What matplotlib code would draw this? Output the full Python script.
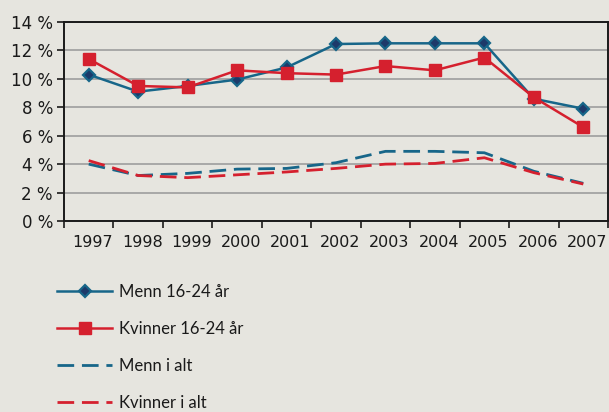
#!/usr/bin/env python3
import matplotlib
matplotlib.use('Agg')
import matplotlib.pyplot as plt
import matplotlib.transforms as mtransforms
import numpy as np

years = ['1997', '1998', '1999', '2000', '2001', '2002', '2003', '2004', '2005', '2006', '2007']
menn_ung    = [10.3, 9.1, 9.5, 9.95, 10.8, 12.45, 12.5, 12.5, 12.5, 8.6, 7.9]
kvinner_ung = [11.4, 9.5, 9.4, 10.6, 10.4, 10.3, 10.9, 10.6, 11.5, 8.7, 6.6]
menn_alt    = [4.0, 3.2, 3.35, 3.65, 3.7, 4.1, 4.9, 4.9, 4.8, 3.5, 2.65]
kvinner_alt = [4.25, 3.2, 3.05, 3.25, 3.45, 3.7, 4.0, 4.05, 4.45, 3.4, 2.6]
labels = ['Menn 16-24 år', 'Kvinner 16-24 år', 'Menn i alt', 'Kvinner i alt']

BG   = '#e6e5df'
BLUE = '#176689'
RED  = '#d5202e'
INK  = '#1a1a1a'

fig = plt.figure(figsize=(6.09, 4.12), dpi=100, facecolor=BG)
ax  = fig.add_axes([64/609, 1-221/412, 544/609, 199/412], facecolor=BG)

x = np.arange(len(years))
l1, = ax.plot(x, menn_ung, color=BLUE, lw=1.8, marker='D', ms=6.5,
              mfc='#1d3a6a', mec=BLUE, mew=1.6, zorder=4)
l2, = ax.plot(x, kvinner_ung, color=RED, lw=1.8, marker='s', ms=8,
              mfc=RED, mec=RED, zorder=5)
l3, = ax.plot(x, menn_alt, color=BLUE, lw=2.0, dashes=(6, 2.8), zorder=3)
l4, = ax.plot(x, kvinner_alt, color=RED, lw=2.0, dashes=(6, 2.8), zorder=3)

ax.set_xlim(-0.5, len(years) - 0.5)
ax.set_ylim(0, 14)
ax.set_yticks(np.arange(0, 15, 2))
ax.set_yticklabels([f'{v} %' for v in range(0, 15, 2)])
ax.yaxis.grid(True, color='#a3a3a3', lw=1.3)
ax.set_axisbelow(True)

ax.set_xticks(np.arange(-0.5, len(years), 1.0))
ax.set_xticklabels([])
ax.set_xticks(x, minor=True)
ax.set_xticklabels(years, minor=True)
ax.tick_params(axis='x', which='minor', length=0, pad=10, labelsize=11.5, labelcolor=INK)
ax.tick_params(axis='x', which='major', length=5, width=1.2, color=INK)
ax.tick_params(axis='y', length=5, width=1.2, color=INK, labelsize=12, labelcolor=INK, pad=3)
off = mtransforms.ScaledTranslation(4/100, 0, fig.dpi_scale_trans)
for t in ax.xaxis.get_minorticklabels():
  t.set_transform(t.get_transform() + off)

for s in ax.spines.values():
  s.set_color(INK)
  s.set_linewidth(1.4)

leg = fig.legend([l1, l2, l3, l4], labels, loc='upper left',
                 bbox_to_anchor=(57/609, 1-284/412), frameon=False,
                 borderpad=0, borderaxespad=0,
                 handlelength=3.3, handletextpad=0.44, labelspacing=1.26,
                 prop={'family': 'Lato', 'size': 12})
for t in leg.get_texts():
  t.set_color(INK)

fig.savefig('out.png', dpi=100, facecolor=BG)
